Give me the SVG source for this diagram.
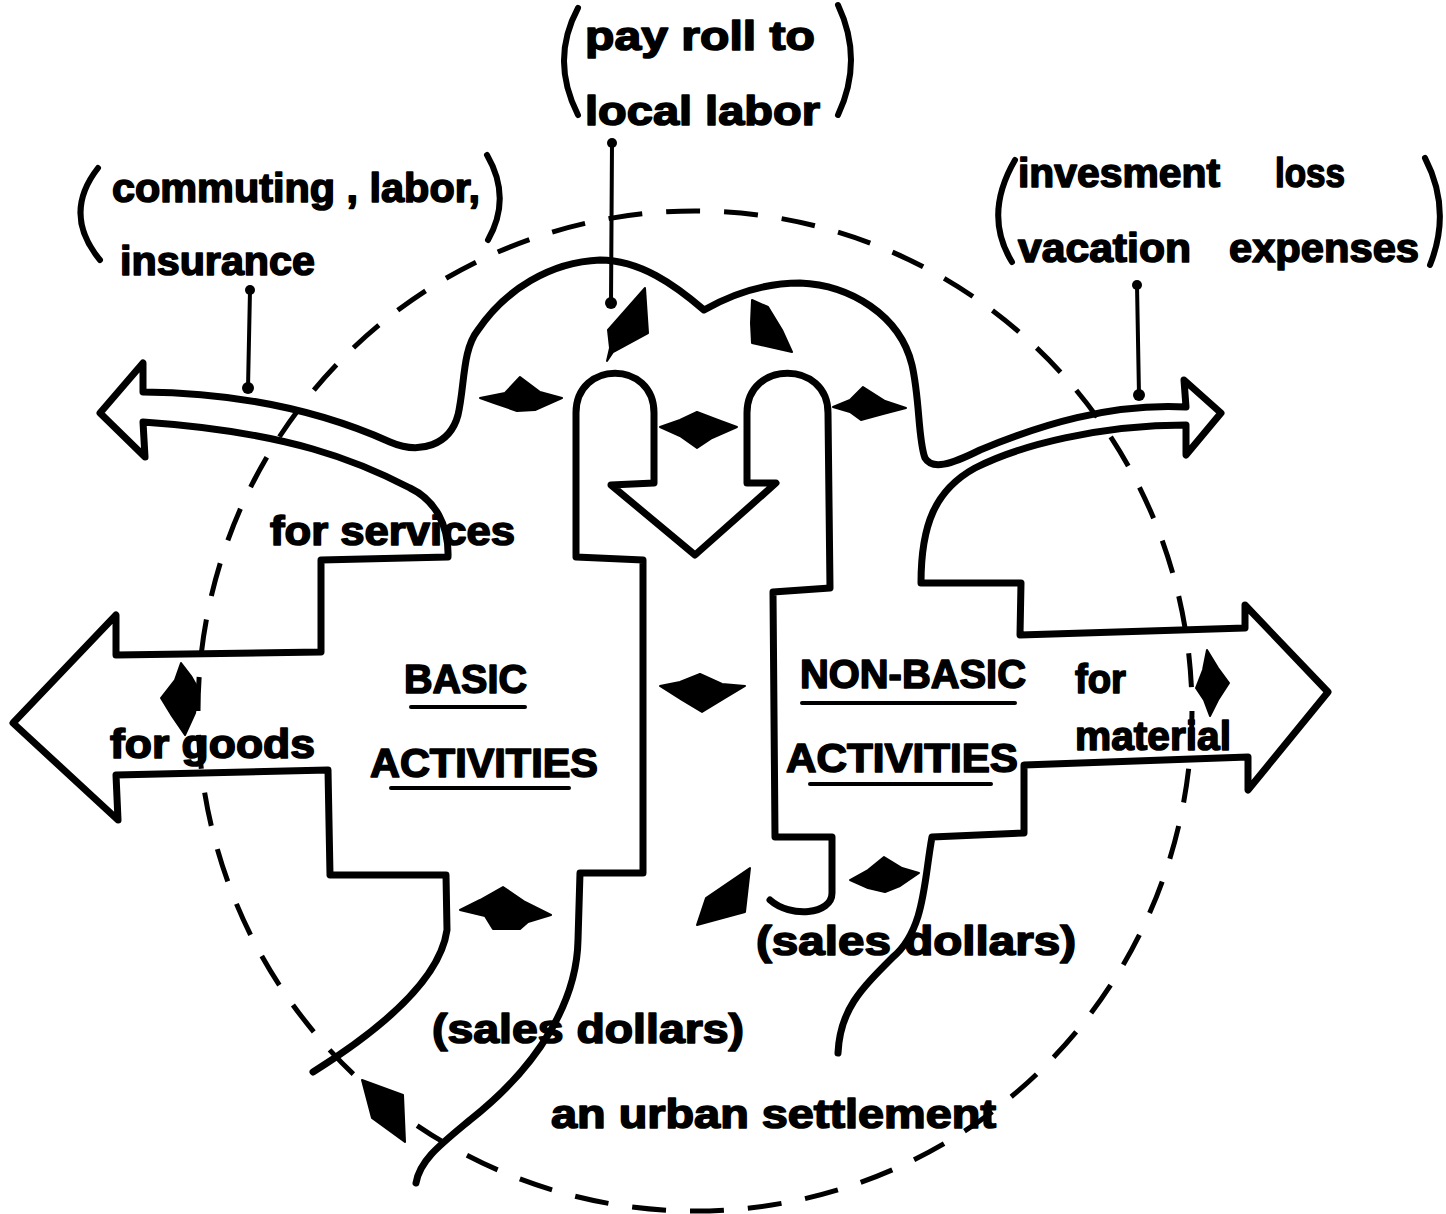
<svg xmlns="http://www.w3.org/2000/svg" width="1446" height="1214" viewBox="0 0 1446 1214">
<style>
.bg{fill:#fff}
.ol{fill:none;stroke:#000;stroke-width:7;stroke-linejoin:round;stroke-linecap:round}
.dash{fill:none;stroke:#000;stroke-width:5;stroke-dasharray:34 24}
.par{fill:none;stroke:#000;stroke-width:6;stroke-linecap:round}
.ptr{fill:none;stroke:#000;stroke-width:4;stroke-linecap:round}
.ul{fill:none;stroke:#000;stroke-width:4;stroke-linecap:round}
.fl{fill:#000;stroke:#000;stroke-width:2;stroke-linejoin:round}
.dot{fill:#000}
text{font-family:"Liberation Sans",Arial,sans-serif;font-weight:bold;font-size:40px;fill:#000;stroke:#000;stroke-width:1.6;stroke-linejoin:round}
</style>
<rect class="bg" x="0" y="0" width="1446" height="1214"/>

<g id="urban-settlement">
<ellipse class="dash" cx="695" cy="711" rx="497" ry="500"/>
<text x="551" y="1128" textLength="445" lengthAdjust="spacingAndGlyphs">an urban settlement</text>
</g>

<g id="flows">
<path class="ol" d="M313,1072 C380,1030 440,980 447,930 L446,875 L330,875 L328,770 L116,775 L118,820 L13,723 L116,615 L116,655 L321,652 L321,560 L448,557 C449,525 435,500 410,488 C360,462 290,432 143,422 L145,457 L100,413 L143,363 L143,392 C250,393 330,415 390,442 C420,455 450,445 458,415 C465,385 462,350 478,330 C505,290 550,262 600,260 C640,260 675,285 704,310 C725,298 760,283 800,283 C850,285 900,315 912,365 C920,400 918,440 925,458 C932,470 950,465 980,450 C1040,425 1110,403 1186,407 L1184,380 L1221,413 L1186,455 L1186,425 C1100,425 1020,445 975,468 C935,490 921,525 921,583 L1021,583 L1020,635 L1245,628 L1245,605 L1328,692 L1248,790 L1248,757 L1024,765 L1024,833 L932,837 C924,880 925,930 893,957 C860,990 840,1010 838,1053"/>
<path class="ol" d="M416,1183 C420,1160 440,1145 470,1120 C540,1065 577,1000 578,940 L580,873 L643,873 L643,560 L576,557 L576,413 C576,360 654,360 654,413 L654,483 L611,485 L695,555 L776,483 L747,483 L747,413 C747,360 828,360 828,413 L830,588 L773,592 L775,837 L832,837 L832,893 C832,915 790,918 770,900"/>
</g>

<g id="basic-activities">
<text x="404" y="693" textLength="123" lengthAdjust="spacingAndGlyphs">BASIC</text>
<line class="ul" x1="411" y1="707" x2="525" y2="707"/>
<text x="370" y="777" textLength="228" lengthAdjust="spacingAndGlyphs">ACTIVITIES</text>
<line class="ul" x1="391" y1="788" x2="569" y2="788"/>
</g>

<g id="non-basic-activities">
<text x="800" y="688" textLength="226" lengthAdjust="spacingAndGlyphs">NON-BASIC</text>
<line class="ul" x1="802" y1="703" x2="1015" y2="703"/>
<text x="786" y="772" textLength="232" lengthAdjust="spacingAndGlyphs">ACTIVITIES</text>
<line class="ul" x1="810" y1="784" x2="991" y2="784"/>
</g>

<g id="labels">
<text x="270" y="545" textLength="245" lengthAdjust="spacingAndGlyphs">for services</text>
<text x="110" y="758" textLength="205" lengthAdjust="spacingAndGlyphs">for  goods</text>
<text x="1075" y="693" textLength="51" lengthAdjust="spacingAndGlyphs">for</text>
<text x="1075" y="750" textLength="156" lengthAdjust="spacingAndGlyphs">material</text>
<text x="756" y="955" textLength="320" lengthAdjust="spacingAndGlyphs">(sales  dollars)</text>
<text x="432" y="1043" textLength="312" lengthAdjust="spacingAndGlyphs">(sales  dollars)</text>
</g>

<g id="payroll-note">
<path class="par" d="M578,8 Q550,60 578,115"/>
<path class="par" d="M838,5 Q864,60 838,115"/>
<text x="585" y="50" textLength="230" lengthAdjust="spacingAndGlyphs">pay roll to</text>
<text x="585" y="125" textLength="235" lengthAdjust="spacingAndGlyphs">local labor</text>
</g>

<g id="commuting-note">
<path class="par" d="M98,168 Q62,214 100,260"/>
<path class="par" d="M487,155 Q512,198 488,240"/>
<text x="112" y="202" textLength="368" lengthAdjust="spacingAndGlyphs">commuting , labor,</text>
<text x="120" y="275" textLength="195" lengthAdjust="spacingAndGlyphs">insurance</text>
</g>

<g id="investment-note">
<path class="par" d="M1015,160 Q983,215 1012,262"/>
<path class="par" d="M1425,158 Q1452,210 1430,265"/>
<text x="1018" y="187" textLength="202" lengthAdjust="spacingAndGlyphs">invesment</text>
<text x="1275" y="187" textLength="70" lengthAdjust="spacingAndGlyphs">loss</text>
<text x="1018" y="262" textLength="173" lengthAdjust="spacingAndGlyphs">vacation</text>
<text x="1229" y="262" textLength="190" lengthAdjust="spacingAndGlyphs">expenses</text>
</g>

<g id="connectors">
<line class="ptr" x1="612" y1="143" x2="611" y2="303"/>
<circle class="dot" cx="612" cy="143" r="5"/>
<circle class="dot" cx="611" cy="303" r="6"/>
<line class="ptr" x1="250" y1="290" x2="248" y2="388"/>
<circle class="dot" cx="250" cy="290" r="5"/>
<circle class="dot" cx="248" cy="388" r="6"/>
<line class="ptr" x1="1137" y1="285" x2="1139" y2="395"/>
<circle class="dot" cx="1137" cy="285" r="5"/>
<circle class="dot" cx="1139" cy="395" r="6"/>
<path class="fl" d="M645,288 L648,333 L613,352 L607,361 L610,348 L608,330 Z"/>
<path class="fl" d="M752,300 L768,307 L782,330 L792,352 L752,343 L751,323 Z"/>
<path class="fl" d="M480,398 L505,393 L520,377 L540,392 L562,398 L535,410 L517,411 L494,403 Z"/>
<path class="fl" d="M660,427 L680,420 L697,412 L718,420 L737,427 L712,438 L697,448 L680,436 Z"/>
<path class="fl" d="M833,407 L850,400 L863,387 L885,401 L906,408 L883,414 L861,420 L850,412 Z"/>
<path class="fl" d="M181,663 L191,676 L199,690 L195,713 L185,735 L172,716 L161,698 L175,680 Z"/>
<path class="fl" d="M660,686 L680,682 L700,674 L722,684 L745,686 L725,698 L702,712 L682,700 Z"/>
<path class="fl" d="M1207,650 L1218,668 L1229,683 L1218,700 L1210,716 L1204,700 L1196,688 L1203,670 Z"/>
<path class="fl" d="M460,910 L480,900 L503,887 L525,902 L551,915 L528,922 L520,929 L493,929 L485,916 Z"/>
<path class="fl" d="M750,868 L745,912 L697,925 L706,898 Z"/>
<path class="fl" d="M850,880 L868,870 L884,857 L902,868 L919,873 L900,886 L885,892 L868,888 Z"/>
<path class="fl" d="M362,1080 L403,1095 L405,1142 L372,1118 Z"/>
</g>
</svg>
